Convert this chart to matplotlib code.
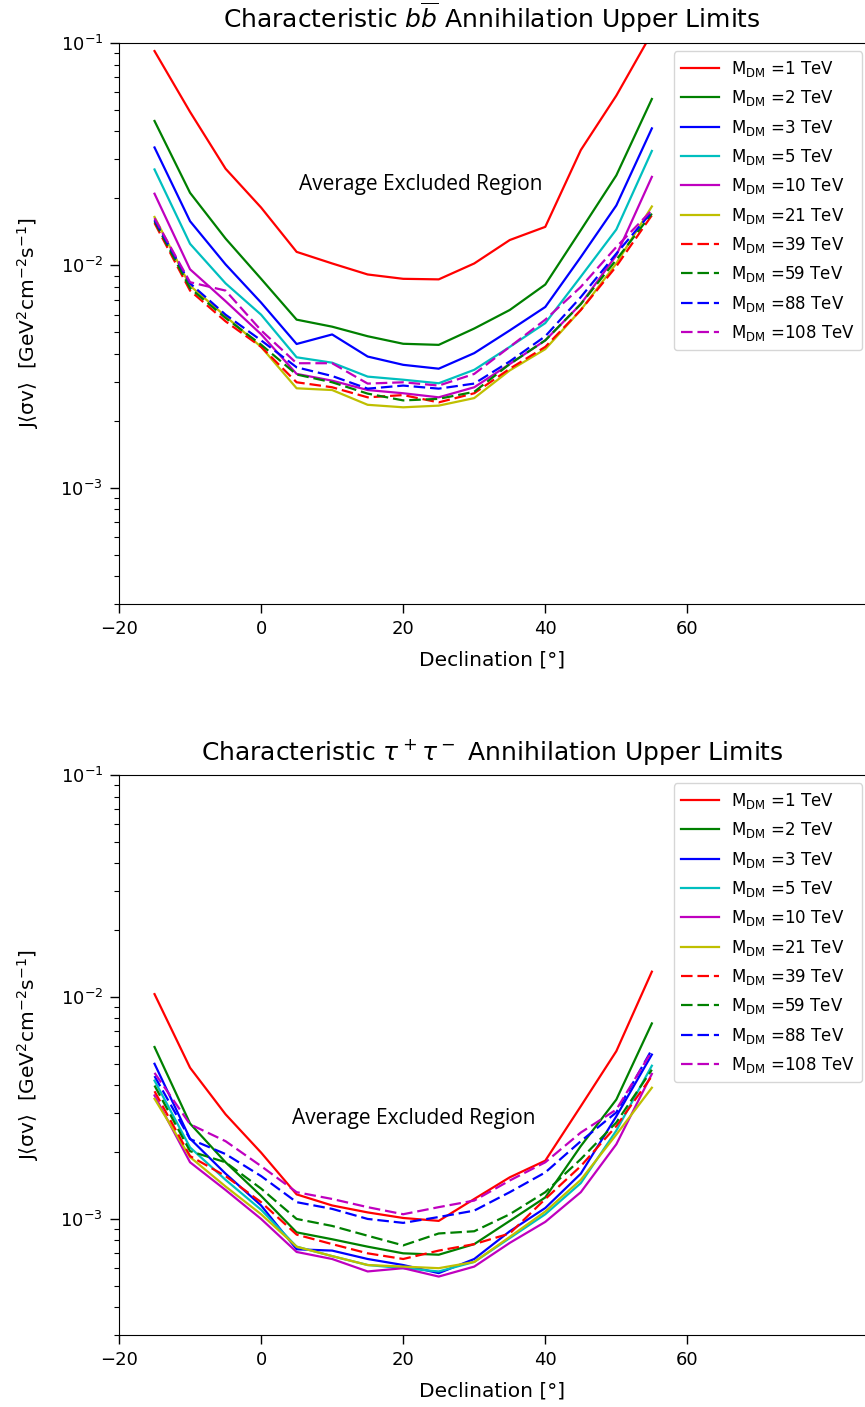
import matplotlib
matplotlib.use("Agg")
import matplotlib.pyplot as plt
import numpy as np

declination = [-15, -10, -5, 0, 5, 10, 15, 20, 25, 30, 35, 40, 45, 50, 55]
masses = ["1", "2", "3", "5", "10", "21", "39", "59", "88", "108"]
colors = ["r", "g", "b", "c", "m", "y", "r", "g", "b", "m"]
styles = ["-", "-", "-", "-", "-", "-", "--", "--", "--", "--"]

bb_1 = [0.092, 0.049, 0.0272, 0.0182, 0.0115, 0.0102, 0.0091, 0.0087, 0.00865, 0.0102, 0.0130, 0.0149, 0.033, 0.058, 0.111]
bb_2 = [0.0446, 0.0212, 0.0132, 0.0087, 0.0057, 0.0053, 0.0048, 0.00444, 0.00439, 0.0052, 0.0063, 0.0082, 0.0144, 0.0254, 0.056]
bb_3 = [0.0339, 0.0158, 0.0101, 0.0068, 0.00443, 0.00489, 0.00389, 0.00357, 0.00343, 0.00403, 0.0051, 0.0065, 0.0109, 0.0186, 0.0413]
bb_5 = [0.027, 0.0125, 0.0083, 0.0060, 0.00386, 0.00365, 0.00316, 0.00306, 0.00295, 0.00339, 0.0043, 0.0055, 0.0089, 0.0145, 0.0327]
bb_10 = [0.021, 0.0096, 0.0069, 0.0049, 0.00325, 0.00303, 0.00275, 0.00266, 0.00255, 0.00283, 0.0036, 0.0046, 0.0067, 0.0111, 0.025]
bb_21 = [0.0165, 0.0081, 0.0059, 0.0043, 0.0028, 0.00275, 0.00236, 0.0023, 0.00234, 0.00253, 0.00337, 0.0042, 0.0063, 0.0102, 0.0184]
bb_39 = [0.0155, 0.0077, 0.0056, 0.0043, 0.00298, 0.00283, 0.00255, 0.00261, 0.00242, 0.00266, 0.00343, 0.0043, 0.0063, 0.0099, 0.0168]
bb_59 = [0.0158, 0.0079, 0.0058, 0.0044, 0.00323, 0.00298, 0.00265, 0.00247, 0.00251, 0.0027, 0.0036, 0.0046, 0.0067, 0.0106, 0.0171]
bb_88 = [0.016, 0.0083, 0.0060, 0.0046, 0.00348, 0.00318, 0.00279, 0.00288, 0.00279, 0.00294, 0.0037, 0.0048, 0.0072, 0.0113, 0.0174]
bb_108 = [0.0163, 0.0084, 0.0077, 0.0051, 0.00363, 0.00363, 0.00294, 0.00298, 0.00288, 0.00325, 0.0043, 0.0057, 0.0080, 0.0121, 0.0177]

tt_1 = [0.0103, 0.0048, 0.00296, 0.00199, 0.00129, 0.00115, 0.00107, 0.00101, 0.00098, 0.00123, 0.00154, 0.00183, 0.00322, 0.0057, 0.0130]
tt_2 = [0.00595, 0.00269, 0.0018, 0.00127, 0.00087, 0.00081, 0.00075, 0.0007, 0.00069, 0.00077, 0.00098, 0.00125, 0.00213, 0.00345, 0.0076]
tt_3 = [0.0050, 0.0023, 0.0016, 0.00115, 0.00073, 0.00072, 0.00066, 0.00062, 0.00057, 0.00066, 0.00088, 0.00112, 0.0016, 0.0029, 0.0055]
tt_5 = [0.0042, 0.0021, 0.0015, 0.0011, 0.00075, 0.00068, 0.00062, 0.0006, 0.00058, 0.00064, 0.00082, 0.00105, 0.00145, 0.0025, 0.0049]
tt_10 = [0.0036, 0.0018, 0.00135, 0.0010, 0.00071, 0.00066, 0.00058, 0.0006, 0.00055, 0.00061, 0.00078, 0.00097, 0.00132, 0.00217, 0.0045]
tt_21 = [0.00348, 0.0019, 0.0014, 0.00105, 0.00075, 0.00068, 0.00062, 0.00061, 0.0006, 0.00064, 0.00083, 0.00108, 0.0015, 0.0024, 0.0039]
tt_39 = [0.00376, 0.00192, 0.00156, 0.00119, 0.00085, 0.00077, 0.0007, 0.00066, 0.00072, 0.00077, 0.00086, 0.00123, 0.00173, 0.00262, 0.0044]
tt_59 = [0.00399, 0.00202, 0.0018, 0.00137, 0.0010, 0.00093, 0.00084, 0.00076, 0.00086, 0.00088, 0.00105, 0.00132, 0.00186, 0.00272, 0.0047]
tt_88 = [0.0044, 0.00229, 0.00196, 0.00156, 0.00119, 0.00111, 0.0010, 0.00096, 0.00102, 0.00109, 0.00132, 0.00162, 0.00224, 0.00302, 0.0058]
tt_108 = [0.00455, 0.00267, 0.00224, 0.00173, 0.00132, 0.00123, 0.00113, 0.00105, 0.00113, 0.00121, 0.00149, 0.0018, 0.00245, 0.00311, 0.0057]

bb_series = [bb_1, bb_2, bb_3, bb_5, bb_10, bb_21, bb_39, bb_59, bb_88, bb_108]
tt_series = [tt_1, tt_2, tt_3, tt_5, tt_10, tt_21, tt_39, tt_59, tt_88, tt_108]

W, H = 865, 1407
fig = plt.figure(figsize=(W / 100, H / 100), dpi=100)

def make_axes(top_px, bottom_px):
    left = 119 / W
    right = 1.0
    b = 1 - bottom_px / H
    t = 1 - top_px / H
    return fig.add_axes([left, b, right - left, t - b])

ax1 = make_axes(43, 604)
ax2 = make_axes(775, 1335)

ylabel = r"J$\langle\mathrm{\sigma v}\rangle$  [GeV$^{2}$cm$^{-2}$s$^{-1}$]"

for ax, series, title, txt_xy in [
    (ax1, bb_series, r"Characteristic $b\overline{b}$ Annihilation Upper Limits", (22.5, 0.0232)),
    (ax2, tt_series, r"Characteristic $\tau^+\tau^-$ Annihilation Upper Limits", (21.5, 0.00284)),
]:
    for m, vals, c, ls in zip(masses, series, colors, styles):
        line_style = (0, (5.2, 2.2)) if ls == "--" else "-"
        ax.plot(declination, vals, color=c, linestyle=line_style, linewidth=1.6,
                label=r"M$_{\rm DM}$ =" + m + " TeV")
    ax.set_yscale("log")
    ax.set_xlim(-20, 85)
    ax.set_ylim(3e-4, 1e-1)
    ax.set_xticks([-20, 0, 20, 40, 60])
    ax.spines["right"].set_visible(False)
    ax.tick_params(which="major", labelsize=13, length=6.5, width=1.0, pad=5)
    ax.tick_params(which="minor", length=3.8, width=0.8)
    ax.set_xlabel("Declination [°]", fontsize=14.5, labelpad=9)
    ax.set_ylabel(ylabel, fontsize=14.5, labelpad=14)
    ax.set_title(title, fontsize=18, pad=11)
    ax.text(txt_xy[0], txt_xy[1], "Average Excluded Region", fontsize=15,
            family="Open Sans", ha="center", va="center")
    ax.legend(loc="upper right", bbox_to_anchor=(0.9965, 0.985), fontsize=12,
              handlelength=2.3, handletextpad=0.7, labelspacing=0.56, borderpad=0.45,
              borderaxespad=0.0, fancybox=True, framealpha=0.8)

fig.savefig("out.png", dpi=100)
